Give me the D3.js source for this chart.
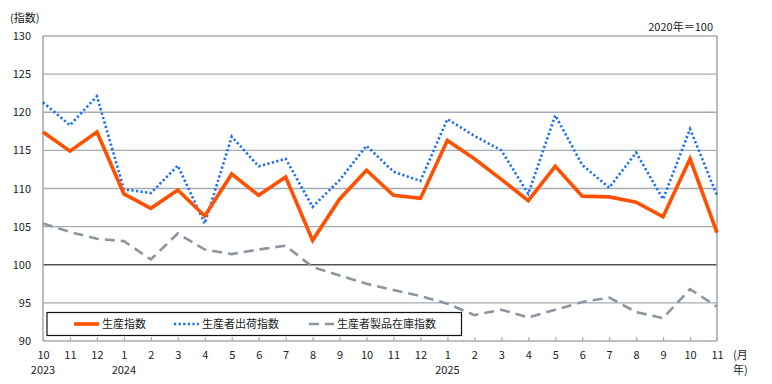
<!DOCTYPE html>
<html>
<head>
<meta charset="utf-8">
<script src="https://cdn.jsdelivr.net/npm/d3@7"></script>
<style>
  body { margin: 0; background: #fff; }
  text { font-family: "Noto Sans CJK JP", "Noto Sans", sans-serif; font-size: 11px; fill: #222; }
</style>
</head>
<body>
<svg id="chart" width="772" height="384"></svg>
<script>
// monthly index values, Oct 2023 .. Nov 2025
const months = ['10', '11', '12', '1', '2', '3', '4', '5', '6', '7', '8', '9', '10', '11', '12',
                '1', '2', '3', '4', '5', '6', '7', '8', '9', '10', '11'];
const years = {0: '2023', 3: '2024', 15: '2025'};

const production = [117.4, 114.9, 117.4, 109.3, 107.4, 109.8, 106.4, 111.9, 109.1, 111.5, 103.2, 108.6, 112.4,
                    109.1, 108.7, 116.3, 113.9, 111.2, 108.4, 112.9, 109.0, 108.9, 108.2, 106.3, 113.9, 104.2];
const shipments = [121.3, 118.3, 122.1, 109.9, 109.4, 113.0, 105.4, 116.8, 112.9, 113.9, 107.6, 111.1, 115.6,
                   112.2, 111.0, 119.1, 116.9, 115.0, 109.3, 119.6, 113.1, 110.1, 114.7, 108.6, 117.8, 109.1];
const inventory = [105.4, 104.3, 103.4, 103.1, 100.7, 104.1, 102.0, 101.4, 102.0, 102.5, 99.7, 98.6, 97.5,
                   96.7, 95.9, 94.9, 93.4, 94.1, 93.1, 94.1, 95.1, 95.7, 93.8, 93.0, 96.8, 94.5];
const yTicks = [90, 95, 100, 105, 110, 115, 120, 125, 130];

const seriesNames = ['生産指数', '生産者出荷指数', '生産者製品在庫指数'];

const plotLeft = 43, plotRight = 717, plotTop = 36, plotBottom = 341;
const gridColor = '#a4acb4';

const svg = d3.select('#chart');

const x = d3.scalePoint()
  .domain(d3.range(months.length))
  .range([plotLeft, plotRight]);
const y = d3.scaleLinear()
  .domain([90, 130])
  .range([plotBottom, plotTop]);

/* horizontal grid */
svg.append('g')
  .selectAll('line')
  .data(yTicks)
  .join('line')
  .attr('x1', plotLeft).attr('x2', plotRight)
  .attr('y1', d => y(d)).attr('y2', d => y(d))
  .attr('stroke', d => d === 100 ? '#505458' : gridColor)
  .attr('stroke-width', d => d === 100 ? 1.6 : 1.3);

/* y labels */
const yAxis = svg.append('g')
  .attr('transform', `translate(${plotLeft - 12},0)`)
  .call(d3.axisLeft(y).tickValues(yTicks).tickSize(0).tickPadding(0));
yAxis.select('.domain').remove();
yAxis.selectAll('text')
  .attr('fill', '#222')
  .style('font-family', '"Noto Sans CJK JP", sans-serif')
  .style('font-size', '11px');

/* frame sides */
svg.append('line').attr('x1', plotLeft).attr('x2', plotLeft).attr('y1', plotTop).attr('y2', plotBottom)
  .attr('stroke', gridColor).attr('stroke-width', 1.6);
svg.append('line').attr('x1', plotRight).attr('x2', plotRight).attr('y1', plotTop).attr('y2', plotBottom)
  .attr('stroke', gridColor).attr('stroke-width', 1.6);

/* x axis: small ticks pointing up, month and year labels */
const xAxis = svg.append('g')
  .attr('transform', `translate(0,${plotBottom})`)
  .call(d3.axisBottom(x).tickSize(-4).tickPadding(10).tickFormat(i => months[i]));
xAxis.select('.domain').remove();
xAxis.selectAll('line').attr('stroke', gridColor).attr('stroke-width', 1.2);
xAxis.selectAll('text')
  .attr('fill', '#222')
  .style('font-family', '"Noto Sans CJK JP", sans-serif')
  .style('font-size', '11px');

svg.append('g')
  .selectAll('text')
  .data(Object.keys(years))
  .join('text')
  .attr('x', d => x(+d))
  .attr('y', 374)
  .attr('text-anchor', 'middle')
  .text(d => years[d]);

svg.append('text').attr('x', 733).attr('y', 359).text('(月');
svg.append('text').attr('x', 733).attr('y', 374).text('年)');
svg.append('text').attr('x', 10).attr('y', 22).text('(指数)');
svg.append('text').attr('x', 713).attr('y', 31).attr('text-anchor', 'end').text('2020年＝100');

/* lines */
const line = d3.line()
  .x((d, i) => x(i))
  .y(d => y(d));

svg.append('path').datum(inventory)
  .attr('d', line).attr('fill', 'none')
  .attr('stroke', '#8c96a0').attr('stroke-width', 2.6)
  .attr('stroke-dasharray', '10 6');

svg.append('path').datum(shipments)
  .attr('d', line).attr('fill', 'none')
  .attr('stroke', '#1a6cff').attr('stroke-width', 2.6)
  .attr('stroke-dasharray', '2.2 2.4');

svg.append('path').datum(production)
  .attr('d', line).attr('fill', 'none')
  .attr('stroke', '#ff5000').attr('stroke-width', 3.6)
  .attr('stroke-linejoin', 'miter');

/* legend */
const legend = svg.append('g');
legend.append('rect')
  .attr('x', 47).attr('y', 312.5).attr('width', 414.5).attr('height', 23)
  .attr('fill', '#fff').attr('stroke', '#111').attr('stroke-width', 1.2);

const legendItems = [
  {x: 74, color: '#ff5000', width: 3.6, dash: null},
  {x: 174, color: '#1a6cff', width: 2.6, dash: '2.2 2.4'},
  {x: 309, color: '#8c96a0', width: 2.6, dash: '10 6'}
];
legendItems.forEach((d, i) => {
  legend.append('line')
    .attr('x1', d.x).attr('x2', d.x + 25)
    .attr('y1', 324).attr('y2', 324)
    .attr('stroke', d.color).attr('stroke-width', d.width)
    .attr('stroke-dasharray', d.dash);
  legend.append('text')
    .attr('x', d.x + 28).attr('y', 328)
    .text(seriesNames[i]);
});
</script>
</body>
</html>
